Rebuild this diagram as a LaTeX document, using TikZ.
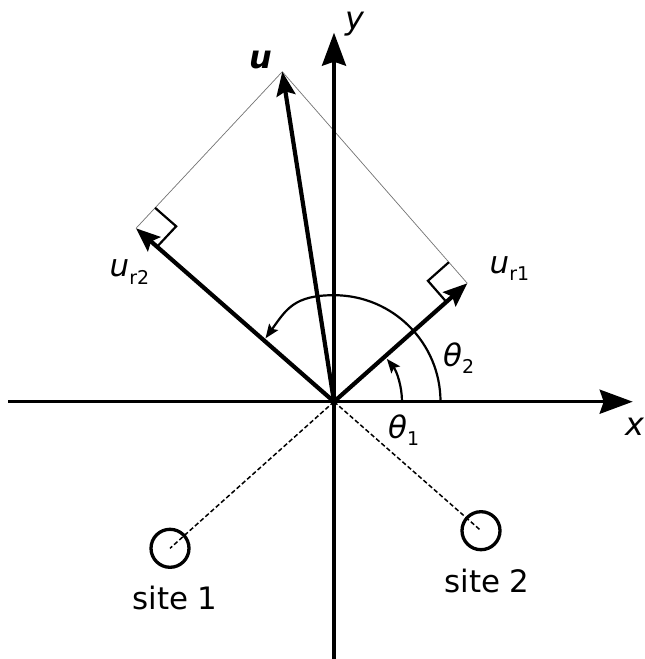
\documentclass[tikz,border=0pt]{standalone}
\usepackage{fontspec}
\setmainfont{DejaVu Sans}
\usetikzlibrary{arrows.meta,calc}
\newcommand{\sbscr}[1]{\raisebox{-0.24em}{\fontsize{19}{19}\selectfont #1}}
\begin{document}
\begin{tikzpicture}[x=1bp,y=-1bp,
 axis/.style={line width=3.4bp, -{Stealth[length=33bp,width=24bp,inset=4bp]}},
 vec/.style={line width=4.2bp, -{Stealth[length=24bp,width=19bp,inset=4bp]}},
 ang/.style={line width=2.2bp, -{Stealth[length=14bp,width=11bp,inset=2.5bp]}},
 proj/.style={line width=0.7bp, draw=black!55},
 rmark/.style={line width=2.2bp},
 guide/.style={line width=1.5bp, dash pattern=on 4.5bp off 2.5bp},
 site/.style={circle, draw, line width=3.3bp, minimum size=38bp, inner sep=0pt},
 lbl/.style={inner sep=0pt, anchor=base west, font=\fontsize{31}{31}\selectfont},
 big/.style={inner sep=0pt, font=\fontsize{31}{31}\selectfont}
]
\useasboundingbox (0,0) rectangle (645,659);
\coordinate (O) at (334,401.7);
\coordinate (xs) at (8,401.7);
\coordinate (xe) at (632.7,401.7);
\coordinate (ys) at (334,659);
\coordinate (ye) at (334,32.7);
\coordinate (U) at (282.3,71.7);
\coordinate (R1) at (467.3,283.3);
\coordinate (R2) at (136,228.3);
% projection lines
\draw[proj] (U) -- (R1);
\draw[proj] (U) -- (R2);
% right-angle marks
\draw[rmark] ($(R1)!28bp!(U)$) -- ($($(R1)!28bp!(U)$)+($(R1)!28bp!(O)$)-(R1)$) -- ($(R1)!28bp!(O)$);
\draw[rmark] ($(R2)!28bp!(U)$) -- ($($(R2)!28bp!(U)$)+($(R2)!28bp!(O)$)-(R2)$) -- ($(R2)!28bp!(O)$);
% sites
\node[site] (s1) at (170,548.3) {};
\node[site] (s2) at (481,530.7) {};
\draw[guide] (O) -- (s1.center);
\draw[guide] (O) -- (s2.center);
% axes
\draw[axis] (xs) -- (xe);
\draw[axis] (ys) -- (ye);
% angle arcs
\draw[ang] ($(O)+(68,0)$) arc[start angle=0, end angle=-39, radius=68];
\draw[ang] ($(O)+(106.5,0)$) arc[start angle=0, end angle=-90, radius=106.5]
   .. controls (294,295.2) and (286.3,309.3) .. (265.5,338.3);
% vectors
\draw[vec] (O) -- (R1);
\draw[vec] (O) -- (R2);
\draw[vec] (O) -- (U);
% labels
\node[lbl, font=\fontsize{32}{32}\selectfont] (lx) at (625,435) {\itshape x};
\node[lbl, font=\fontsize{32}{32}\selectfont] (ly) at (345,29.5) {\itshape y};
\node[lbl, font=\fontsize{32}{32}\selectfont] (lu) at (249,68.3) {\bfseries\itshape u};
\node[lbl] (lur1) at (489.5,273.3) {\itshape u\sbscr{\upshape r1}};
\node[lbl] (lur2) at (109.5,276.7) {\itshape u\sbscr{\upshape r2}};
\node[lbl] (lt2) at (443,366) {\itshape θ\sbscr{\upshape 2}};
\node[lbl] (lt1) at (388,438) {\itshape θ\sbscr{\upshape 1}};
\node[big] (ls1) at (175,598) {site 1};
\node[big] (ls2) at (487,581) {site 2};
\end{tikzpicture}
\end{document}
